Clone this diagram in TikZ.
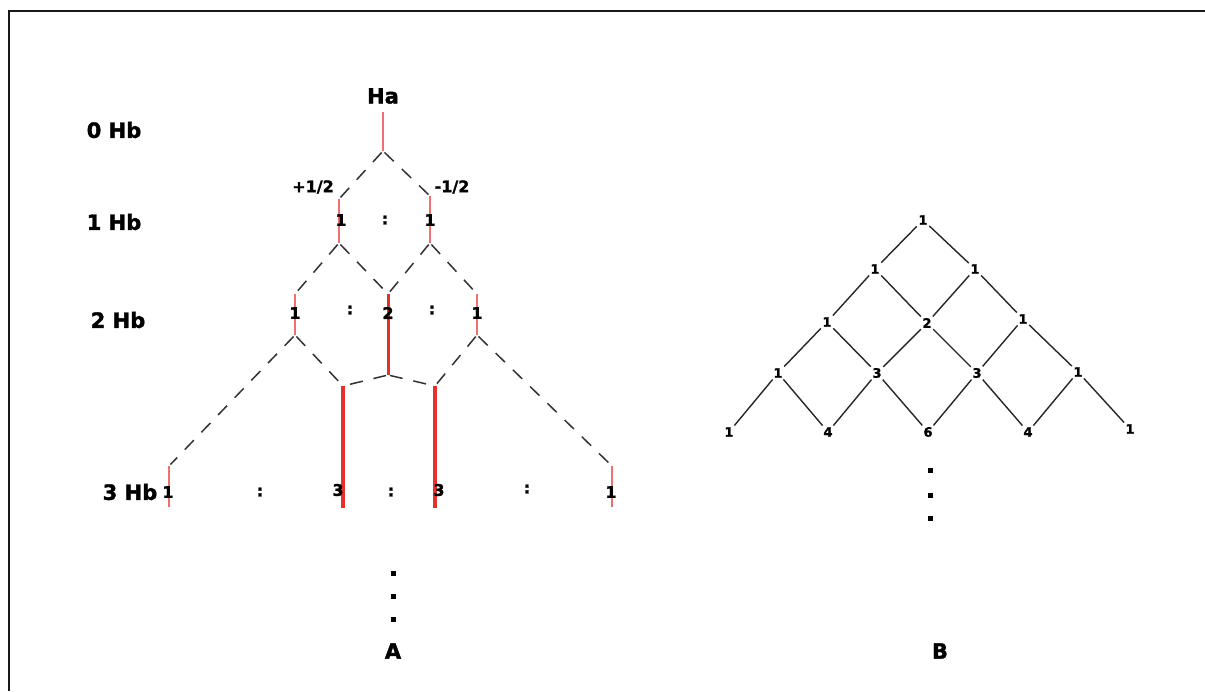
\documentclass[tikz,border=0pt]{standalone}
\usepackage{fontspec}
\setmainfont{DejaVu Sans}
\newfontfamily\heavy[FakeBold=1.6]{DejaVu Sans Bold}
\definecolor{lightred}{HTML}{F07070}
\definecolor{strongred}{HTML}{E5302C}

\begin{document}
\begin{tikzpicture}[x=1pt,y=-1pt,
  lvl/.style={font=\fontsize{21}{21}\heavy},
  num/.style={font=\fontsize{16}{16}\heavy, inner sep=0pt},
  pas/.style={font=\fontsize{13}{13}\heavy, inner sep=1.5pt},
  split/.style={dash pattern=on 13pt off 11pt, line width=1.5pt, black!80, shorten >=2pt, shorten <=2pt},
  thin red/.style={lightred, line width=1.5pt},
  thick red/.style={strongred, line width=4.2pt},
  link/.style={line width=1.4pt, black!85}]
 \useasboundingbox (0,0) rectangle (1205,691);
 \draw[line width=2pt, black!90] (9,691) -- (9,11) -- (1205,11);

 \node[lvl] (hb0) at (114,130) {0 Hb};
 \node[lvl] (hb1) at (114,222) {1 Hb};
 \node[lvl] (hb2) at (118,320) {2 Hb};
 \node[lvl] (hb3) at (130,492) {3 Hb};
 \node[lvl] (ha) at (383,96) {Ha};

 \coordinate (h0t) at (383,112); \coordinate (h0b) at (383,151);
 \coordinate (a1t) at (339,199); \coordinate (a1b) at (339,243);
 \coordinate (b1t) at (430,196); \coordinate (b1b) at (430,243);
 \coordinate (a2t) at (295,294); \coordinate (a2b) at (295,335);
 \coordinate (b2t) at (388,294); \coordinate (b2b) at (388,375);
 \coordinate (c2t) at (477,294); \coordinate (c2b) at (477,335);
 \coordinate (a3t) at (169,466); \coordinate (a3b) at (169,507);
 \coordinate (b3t) at (343,386); \coordinate (b3b) at (343,508);
 \coordinate (c3t) at (435,386); \coordinate (c3b) at (435,508);
 \coordinate (d3t) at (612,466); \coordinate (d3b) at (612,507);

 \draw[thin red] (h0t) -- (h0b);
 \draw[thin red] (a1t) -- (a1b);
 \draw[thin red] (b1t) -- (b1b);
 \draw[thin red] (a2t) -- (a2b);
 \draw[strongred, line width=3pt] (b2t) -- (b2b);
 \draw[thin red] (c2t) -- (c2b);
 \draw[thin red] (a3t) -- (a3b);
 \draw[thick red] (b3t) -- (b3b);
 \draw[thick red] (c3t) -- (c3b);
 \draw[thin red] (d3t) -- (d3b);

 \draw[split] (h0b) -- (a1t);
 \draw[split] (h0b) -- (b1t);
 \draw[split] (a1b) -- (a2t);
 \draw[split] (a1b) -- (b2t);
 \draw[split] (b1b) -- (b2t);
 \draw[split] (b1b) -- (c2t);
 \draw[split] (a2b) -- (a3t);
 \draw[split] (a2b) -- (b3t);
 \draw[split] (b2b) -- (b3t);
 \draw[split] (b2b) -- (c3t);
 \draw[split] (c2b) -- (c3t);
 \draw[split] (c2b) -- (d3t);

 \node[num] (plus) at (313,187) {+1/2};
 \node[num] (minus) at (452,187) {-1/2};

 \node[num] (n1a) at (341,220) {1};
 \node[num] (c1) at (385,220) {:};
 \node[num] (n1b) at (430,220) {1};

 \node[num] (n2a) at (295,313) {1};
 \node[num] (c2a) at (350,310) {:};
 \node[num] (n2b) at (388,313) {2};
 \node[num] (c2b) at (432,310) {:};
 \node[num] (n2c) at (477,313) {1};

 \node[num] (n3a) at (168,492) {1};
 \node[num] (c3a) at (260,492) {:};
 \node[num] (n3b) at (338,490) {3};
 \node[num] (c3b) at (391,492) {:};
 \node[num] (n3c) at (439,490) {3};
 \node[num] (c3c) at (527,489) {:};
 \node[num] (n3d) at (611,492) {1};

 \foreach \y in {573,596,619} \fill (390.5,\y-2.5) rectangle +(5,5);
 \node[lvl] (capa) at (393,651) {A};

 \node[pas] (p0) at (923,220) {1};
 \node[pas] (p1a) at (875,269) {1};
 \node[pas] (p1b) at (975,269) {1};
 \node[pas] (p2a) at (827,322) {1};
 \node[pas] (p2b) at (927,323) {2};
 \node[pas] (p2c) at (1023,319) {1};
 \node[pas] (p3a) at (778,373) {1};
 \node[pas] (p3b) at (877,373) {3};
 \node[pas] (p3c) at (977,373) {3};
 \node[pas] (p3d) at (1078,372) {1};
 \node[pas] (p4a) at (729,432) {1};
 \node[pas] (p4b) at (828,432) {4};
 \node[pas] (p4c) at (928,432) {6};
 \node[pas] (p4d) at (1028,432) {4};
 \node[pas] (p4e) at (1130,429) {1};

 \draw[link] (p0) -- (p1a); \draw[link] (p0) -- (p1b);
 \draw[link] (p1a) -- (p2a); \draw[link] (p1a) -- (p2b);
 \draw[link] (p1b) -- (p2b); \draw[link] (p1b) -- (p2c);
 \draw[link] (p2a) -- (p3a); \draw[link] (p2a) -- (p3b);
 \draw[link] (p2b) -- (p3b); \draw[link] (p2b) -- (p3c);
 \draw[link] (p2c) -- (p3c); \draw[link] (p2c) -- (p3d);
 \draw[link] (p3a) -- (p4a); \draw[link] (p3a) -- (p4b);
 \draw[link] (p3b) -- (p4b); \draw[link] (p3b) -- (p4c);
 \draw[link] (p3c) -- (p4c); \draw[link] (p3c) -- (p4d);
 \draw[link] (p3d) -- (p4d); \draw[link] (p3d) -- (p4e);

 \foreach \y in {470,495,518} \fill (927.5,\y-2.5) rectangle +(5,5);
 \node[lvl] (capb) at (940,651) {B};
\end{tikzpicture}
\end{document}
